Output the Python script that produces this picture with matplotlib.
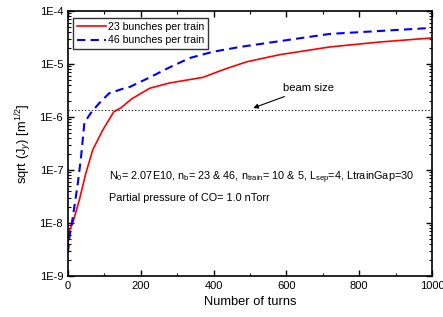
import numpy as np
import matplotlib
matplotlib.use("Agg")
from matplotlib import pyplot as plt
from matplotlib.ticker import LogLocator, NullFormatter, MultipleLocator

plt.rcParams['font.family'] = ['Liberation Sans', 'DejaVu Sans']
plt.rcParams['mathtext.fontset'] = 'custom'
plt.rcParams['mathtext.rm'] = 'Liberation Sans'
plt.rcParams['mathtext.it'] = 'Liberation Sans:italic'
plt.rcParams['mathtext.bf'] = 'Liberation Sans:bold'

# --- data ---
turns_23 = [0, 3, 13, 31, 49, 68, 95, 126, 146, 175, 225, 280, 371, 426, 491, 582,
            720, 857, 1000]
jy_23 = [3.8e-9, 7e-9, 1.0e-8, 2.7e-8, 8.7e-8, 2.4e-7, 5.6e-7, 1.26e-6, 1.5e-6,
         2.2e-6, 3.5e-6, 4.4e-6, 5.6e-6, 7.8e-6, 1.1e-5, 1.5e-5, 2.1e-5, 2.6e-5, 3.1e-5]

turns_46 = [0, 4, 13, 27, 36, 45, 63, 85, 113, 150, 170, 225, 280, 335, 398, 473,
            582, 720, 857, 1000]
jy_46 = [2.8e-9, 5.5e-9, 1.26e-8, 5.6e-8, 1.8e-7, 7.8e-7, 1.2e-6, 1.8e-6, 2.8e-6,
         3.4e-6, 3.7e-6, 5.6e-6, 8.7e-6, 1.3e-5, 1.7e-5, 2.1e-5, 2.7e-5, 3.7e-5,
         4.2e-5, 4.8e-5]

beam_size = 1.35e-6

labels = ['23 bunches per train', '46 bunches per train']

fig = plt.figure(figsize=(4.43, 3.17), dpi=100)
ax = fig.add_axes([0.1535, 0.1293, 0.8215, 0.836])

ax.plot(turns_23, jy_23, color='red', lw=1.2, label=labels[0])
ax.plot(turns_46, jy_46, color='blue', lw=1.5, ls=(0, (4, 2.5)), label=labels[1])
ax.axhline(beam_size, color='black', lw=0.8, ls=(0, (1, 2)))

ax.set_yscale('log')
ax.set_xlim(0, 1000)
ax.set_ylim(1e-9, 1e-4)

ax.xaxis.set_major_locator(MultipleLocator(200))
ax.xaxis.set_minor_locator(MultipleLocator(100))
ax.yaxis.set_minor_locator(LogLocator(base=10, subs=np.arange(2, 10), numticks=20))
ax.yaxis.set_minor_formatter(NullFormatter())
ax.set_yticks([1e-9, 1e-8, 1e-7, 1e-6, 1e-5, 1e-4])
ax.set_yticklabels(['1E-9', '1E-8', '1E-7', '1E-6', '1E-5', '1E-4'])

ax.tick_params(which='both', direction='in', top=True, right=True, labelsize=8)
ax.tick_params(which='major', length=4, width=1)
ax.tick_params(which='minor', length=2, width=0.8)
for s in ax.spines.values():
    s.set_linewidth(1.2)

ax.set_xlabel('Number of turns', fontsize=9.3)
ax.set_ylabel(r'sqrt (J$_y$) [m$^{1/2}$]', fontsize=9.3)

ax.annotate('beam size', xy=(509, 10 ** -5.83), xytext=(590, 10 ** -5.45),
            fontsize=8, va='center',
            arrowprops=dict(arrowstyle='-|>', color='black', lw=0.8,
                            mutation_scale=7, shrinkA=2, shrinkB=0))

ax.text(113, 10 ** -7.15,
        r'N$_0$= 2.07E10, n$_\mathrm{b}$= 23 & 46, n$_\mathrm{train}$= 10 & 5, '
        r'L$_\mathrm{sep}$=4, LtrainGap=30', fontsize=7.8, va='center')
ax.text(113, 10 ** -7.53, 'Partial pressure of CO= 1.0 nTorr', fontsize=7.8, va='center')

leg = ax.legend(loc='upper left', fontsize=7.6, frameon=True, fancybox=False,
                edgecolor='black', handlelength=2.8, borderpad=0.35,
                labelspacing=0.3, handletextpad=0.2, borderaxespad=0,
                bbox_to_anchor=(0.014, 0.972))
leg.get_frame().set_linewidth(1)

plt.savefig('out.png', dpi=100)
